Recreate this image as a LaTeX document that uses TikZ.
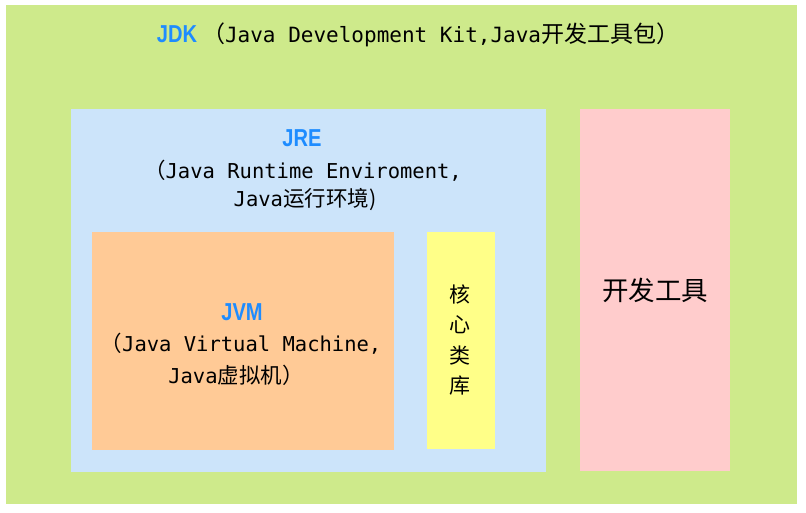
\documentclass[tikz,border=0pt]{standalone}
\usepackage{fontspec}
\setmainfont{DejaVu Sans Mono}
\newfontfamily\cjk{Noto Sans CJK SC}
\newfontfamily\hd[FakeStretch=0.82]{Liberation Sans}
\definecolor{jdkgreen}{HTML}{CEEA8B}
\definecolor{jreblue}{HTML}{CCE4FA}
\definecolor{jvmorange}{HTML}{FFCA96}
\definecolor{coreyellow}{HTML}{FFFF88}
\definecolor{toolpink}{HTML}{FFCCCC}
\definecolor{headblue}{HTML}{1E8CFF}
\newcommand{\cj}[1]{{\cjk\fontsize{21.5}{24}\selectfont #1}}
\newcommand{\cjt}[1]{{\cjk\fontsize{23}{24}\selectfont #1}}
\begin{document}
\begin{tikzpicture}[x=1pt,y=-1pt,
  box/.style={draw=none,inner sep=0pt,outer sep=0pt,anchor=north west},
  head/.style={inner sep=0pt,font=\hd\bfseries\fontsize{24.5}{26}\selectfont,text=headblue},
  txt/.style={inner sep=0pt,font=\fontsize{20.5}{24}\selectfont,text=black}]
\useasboundingbox[fill=white] (0,0) rectangle (806,512);
\node[box,fill=jdkgreen,minimum width=791pt,minimum height=499pt] (jdk) at (6,5) {};
\node[box,fill=jreblue,minimum width=475pt,minimum height=363pt] (jre) at (71,109) {};
\node[box,fill=toolpink,minimum width=150pt,minimum height=362pt] (tools) at (580,109) {};
\node[box,fill=jvmorange,minimum width=302pt,minimum height=218pt] (jvm) at (92,232) {};
\node[box,fill=coreyellow,minimum width=68pt,minimum height=217pt] (core) at (427,232) {};
% JDK title
\node[txt,font=\fontsize{21}{24}\selectfont] (jdkt) at (418,35) {{\hd\bfseries\fontsize{24.5}{26}\selectfont\color{headblue}JDK}\hspace{5pt}\cjt{（}Java Development Kit,Java\cjt{开发工具包）}};
% JRE
\node[head] (jreh) at (302,138) {JRE};
\node[txt] (jre1) at (303,171) {\cj{（}Java Runtime Enviroment,};
\node[txt] (jre2) at (305,200) {Java\cj{运行环境)}};
% JVM
\node[head] (jvmh) at (242,312) {JVM};
\node[txt] (jvm1) at (241,344) {\cj{（}Java Virtual Machine,};
\node[txt] (jvm2) at (236,375) {Java\cj{虚拟机）}};
% core library
\node[inner sep=0pt,align=center,font=\cjk\fontsize{21}{30.5}\selectfont] (coret) at (460,340) {核\\心\\类\\库};
% tools
\node[inner sep=0pt,font=\cjk\fontsize{26.5}{30}\selectfont] (toolst) at (655,290) {开发工具};
\end{tikzpicture}
\end{document}
